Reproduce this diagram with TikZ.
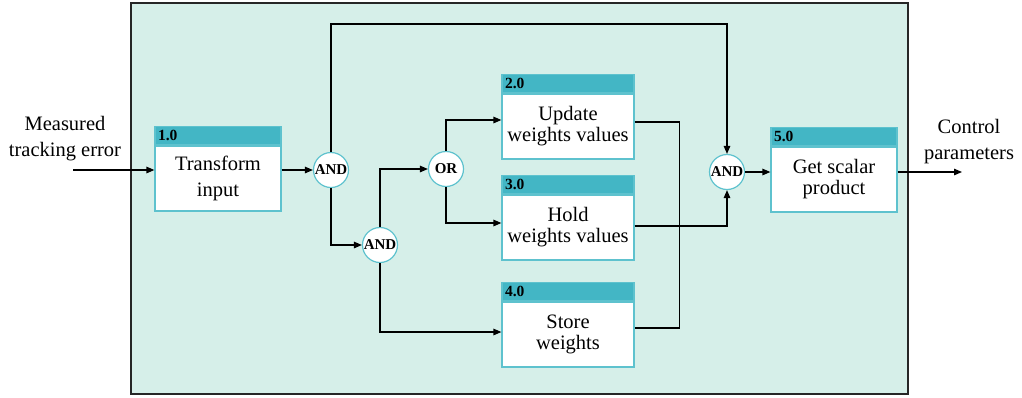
\documentclass[tikz,border=0pt]{standalone}
\usepackage{fontspec}
\setmainfont{Liberation Serif}
\usetikzlibrary{arrows.meta,calc}
\definecolor{bgteal}{HTML}{D6EFE9}
\definecolor{hdrteal}{HTML}{43B6C5}
\definecolor{edgeteal}{HTML}{5EC2CE}
\tikzset{
  body/.style={draw=edgeteal, line width=1.2pt, fill=white, minimum width=#1, minimum height=65pt, inner sep=0pt, align=center, font=\fontsize{20.5}{21}\selectfont},
  body/.default=126pt,
  hdr/.style={draw=edgeteal, fill=hdrteal, line width=1.2pt, minimum height=18pt, anchor=south west, inner xsep=3pt, inner ysep=0pt, text width=#1, align=left, font=\bfseries\fontsize{15.5}{15.5}\selectfont},
  hdr/.default=120pt,
  gate/.style={circle, draw=edgeteal, line width=1.2pt, fill=white, minimum size=35pt, inner sep=0pt, font=\bfseries\fontsize{15}{15}\selectfont},
  arr/.style={line width=1.3pt, -{Triangle[length=8pt,width=6.5pt]}},
  ln/.style={line width=1.3pt},
  lbl/.style={align=center, font=\fontsize{20.5}{26}\selectfont}
}
\begin{document}
\begin{tikzpicture}[x=1pt,y=-1pt]
\useasboundingbox (0,0) rectangle (1022,397);
\fill[bgteal] (131,3) rectangle (908,394);
\draw[line width=1.3pt, black!85] (131,3) rectangle (908,394);

% boxes
\node[body, font=\fontsize{20.5}{26}\selectfont] (b1) at (218,178.5) {Transform\\input};
\node[hdr] (h1) at (b1.north west) {1.0};
\node[body=132pt] (b2) at (568,126.5) {Update\\weights values};
\node[hdr=126pt] (h2) at (b2.north west) {2.0};
\node[body=132pt] (b3) at (568,227.5) {Hold\\weights values};
\node[hdr=126pt] (h3) at (b3.north west) {3.0};
\node[body=132pt] (b4) at (568,334.5) {Store\\weights};
\node[hdr=126pt] (h4) at (b4.north west) {4.0};
\node[body] (b5) at (834,179.5) {Get scalar\\product};
\node[hdr] (h5) at (b5.north west) {5.0};

% gates
\node[gate] (and1) at (331,170) {AND};
\node[gate] (and2) at (380,245) {AND};
\node[gate] (or) at (446,169) {OR};
\node[gate] (and3) at (727,172) {AND};

% labels
\node[lbl] (lin) at (65,139) {Measured\\tracking error};
\node[lbl] (lout) at (969,142) {Control\\parameters};
\coordinate (inp) at (73,170);
\coordinate (outp) at (962,172);
\coordinate (top) at (0,24);

% connectors
\draw[arr] (inp) -- (b1.west |- inp);
\draw[arr] (b1.east |- and1) -- (and1);
\draw[arr] (and1.south) |- (and2);
\draw[arr] (and2.north) |- (or);
\draw[arr] (or.north) |- ($(b2.west)+(0,-6.5)$);
\draw[arr] (or.south) |- ($(b3.west)+(0,-4.5)$);
\draw[arr] (and2.south) |- ($(b4.west)+(0,-2.5)$);
\draw[ln] ($(b2.east)+(0,-4.5)$) -| ($(b4.east)+(45,-6.5)$) -- ($(b4.east)+(0,-6.5)$);
\draw[arr] ($(b3.east)+(0,-1.5)$) -| (and3.south);
\draw[arr] (and1.north) -- (and1.north |- top) -| (and3.north);
\draw[arr] (and3) -- (b5.west |- and3);
\draw[arr] (b5.east |- and3) -- (outp);
\end{tikzpicture}
\end{document}
